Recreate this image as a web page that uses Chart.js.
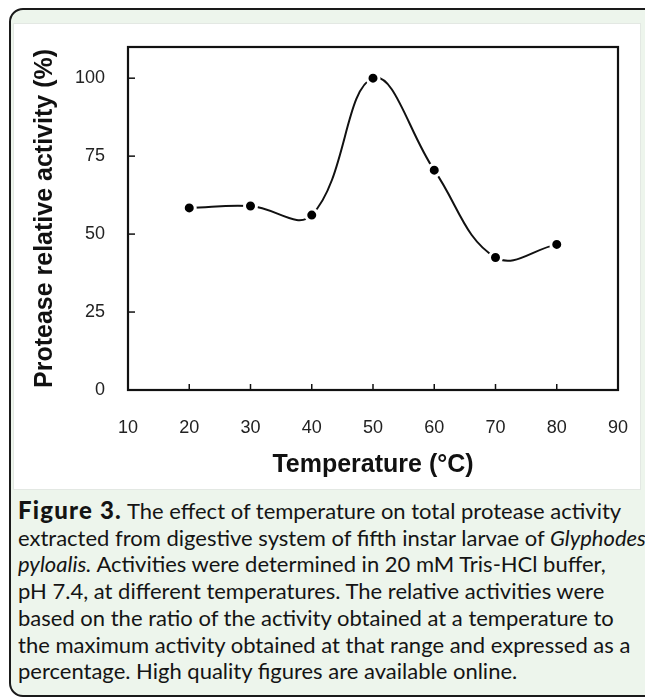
<!DOCTYPE html>
<html>
<head>
<meta charset="utf-8">
<script src="https://cdn.jsdelivr.net/npm/chart.js@4.4.0/dist/chart.umd.min.js"></script>
<style>
  html, body { margin: 0; background: #fff; overflow: hidden; }
  body { width: 645px; height: 698px; position: relative; }
  #card { position: absolute; left: 9px; top: 8px; width: 700px; height: 685px; border: 2.5px solid #1a1a1a;
          border-radius: 14px; background: #edf5ec; }
  #panel { position: absolute; left: 14px; top: 24px; width: 626px; height: 465px; background: #fff;
           box-shadow: 0 0 0 1px #e3e8e3; }
  #caption { position: absolute; left: 18px; top: 497px; width: 700px; font-family: Lato, "Open Sans", sans-serif;
             font-size: 22px; line-height: 26.7px; color: #141414; white-space: nowrap; }
  #caption b { font-weight: 900; font-size: 24px; letter-spacing: 1.2px; }
</style>
</head>
<body>
<div id="card"></div>
<div id="panel"><canvas id="temp-chart" width="626" height="465"></canvas></div>
<div id="caption">
<b>Figure 3.</b> The effect of temperature on total protease activity<br>
extracted from digestive system of fifth instar larvae of <i>Glyphodes</i><br>
<i>pyloalis.</i> Activities were determined in 20 mM Tris-HCl buffer,<br>
pH 7.4, at different temperatures. The relative activities were<br>
based on the ratio of the activity obtained at a temperature to<br>
the maximum activity obtained at that range and expressed as a<br>
percentage. High quality figures are available online.
</div>
<script>
var temperature = [20, 30, 40, 50, 60, 70, 80];
var activity = [58.4, 59.0, 56.1, 100, 70.5, 42.5, 46.7];
var xTicks = [10, 20, 30, 40, 50, 60, 70, 80, 90];
var yTicks = [0, 25, 50, 75, 100];

var points = [];
for (var i in temperature) {
    points.push({x: temperature[i], y: activity[i]});
}

// frame round the plot + ticks pointing inward
var framePlugin = {
    id: 'frame',
    afterDraw: function(chart) {
        var ctx = chart.ctx, a = chart.chartArea;
        var xs = chart.scales.x, ys = chart.scales.y;
        ctx.save();
        ctx.strokeStyle = '#111';
        ctx.lineWidth = 1.5;
        xs.ticks.forEach(function(t) {
            var px = xs.getPixelForValue(t.value);
            if (px <= a.left + 1 || px >= a.right - 1) return;
            ctx.beginPath(); ctx.moveTo(px, a.bottom); ctx.lineTo(px, a.bottom - 6); ctx.stroke();
        });
        ys.ticks.forEach(function(t) {
            var py = ys.getPixelForValue(t.value);
            if (py >= a.bottom - 1) return;
            ctx.beginPath(); ctx.moveTo(a.left, py); ctx.lineTo(a.left + 7, py); ctx.stroke();
        });
        ctx.lineWidth = 2.2;
        ctx.strokeRect(a.left, a.top, a.right - a.left, a.bottom - a.top);
        ctx.restore();
    }
};

// labels sit far from the axis, don't let that padding shrink the plot
function noEdgePadding(s) {
    s.paddingLeft = 0; s.paddingRight = 0; s.paddingTop = 0; s.paddingBottom = 0;
}

var ctx = document.getElementById('temp-chart');
var tempChart = new Chart(ctx, {
    type: 'line',
    data: {
        datasets: [{
            data: points,
            borderColor: '#111',
            borderWidth: 2,
            tension: 0.4,
            pointRadius: 6,
            pointBorderWidth: 3,
            pointBackgroundColor: '#000',
            pointBorderColor: '#fff'
        }]
    },
    options: {
        responsive: false,
        animation: false,
        layout: { padding: { top: 23, right: 22, left: 0, bottom: 0 } },
        plugins: { legend: { display: false }, tooltip: { enabled: false } },
        scales: {
            x: {
                type: 'linear',
                min: 10, max: 90,
                afterBuildTicks: function(s) { s.ticks = xTicks.map(function(v) { return {value: v}; }); },
                afterFit: function(s) { s.height = 99; noEdgePadding(s); },
                grid: { display: false, drawTicks: false },
                border: { display: false },
                ticks: { padding: 27, color: '#222', font: { family: 'Liberation Sans', size: 18 } },
                title: { display: true, text: 'Temperature (°C)', color: '#111',
                         font: { family: 'Liberation Sans', size: 25, weight: 'bold' },
                         padding: { top: 0, bottom: 9 } }
            },
            y: {
                min: 0, max: 110,
                afterBuildTicks: function(s) { s.ticks = yTicks.map(function(v) { return {value: v}; }); },
                afterFit: function(s) { s.width = 114; noEdgePadding(s); },
                grid: { display: false, drawTicks: false },
                border: { display: false },
                ticks: { padding: 23, color: '#222', font: { family: 'Liberation Sans', size: 18 } },
                title: { display: true, text: 'Protease relative activity (%)', color: '#111',
                         font: { family: 'Liberation Sans', size: 25, weight: 'bold' },
                         padding: { top: 16, bottom: 0 } }
            }
        }
    },
    plugins: [framePlugin]
});
</script>
</body>
</html>
